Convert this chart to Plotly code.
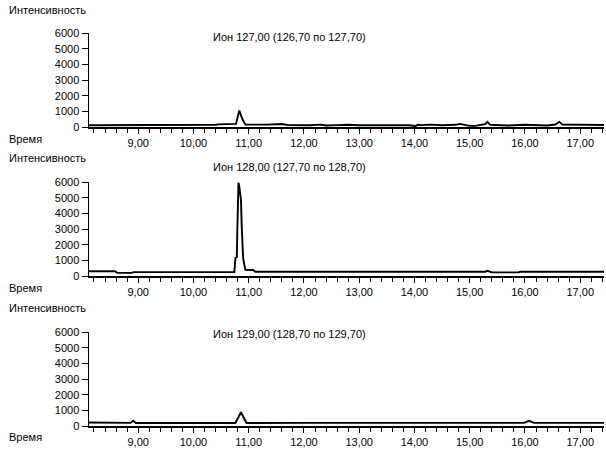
import plotly.graph_objects as go

# ---- data ----
x_tick_vals = [9, 10, 11, 12, 13, 14, 15, 16, 17]
x_tick_labels = ["9,00", "10,00", "11,00", "12,00", "13,00", "14,00", "15,00", "16,00", "17,00"]
y_tick_vals = [0, 1000, 2000, 3000, 4000, 5000, 6000]
y_tick_labels = ["0", "1000", "2000", "3000", "4000", "5000", "6000"]

titles = ["Ион 127,00 (126,70 по 127,70)",
          "Ион 128,00 (127,70 по 128,70)",
          "Ион 129,00 (128,70 по 129,70)"]

t1 = [8.11, 8.90, 8.92, 10.40, 10.45, 10.74, 10.77, 10.83, 10.88, 10.94, 11.00, 11.35,
      11.45, 11.60, 11.72, 11.80, 12.10, 12.30, 12.40, 12.60, 12.80, 13.00, 13.30, 13.50,
      13.70, 13.90, 14.02, 14.06, 14.12, 14.30, 14.50, 14.75, 14.82, 14.90, 15.00, 15.10,
      15.22, 15.28, 15.32, 15.37, 15.45, 15.70, 16.00, 16.30, 16.40, 16.55, 16.62, 16.68,
      16.80, 17.00, 17.43]
i1 = [110, 110, 140, 140, 170, 170, 200, 1050, 550, 160, 150, 150,
      150, 190, 120, 110, 110, 150, 100, 120, 140, 110, 100, 130,
      130, 110, 60, 140, 120, 150, 110, 140, 200, 150, 70, 70,
      120, 180, 330, 140, 130, 100, 140, 140, 100, 160, 330, 150,
      130, 140, 130]

t2 = [8.11, 8.58, 8.62, 8.88, 8.92, 10.74, 10.76, 10.785, 10.795, 10.805, 10.815, 10.83,
      10.845, 10.86, 10.875, 10.90, 10.94, 11.08, 11.12, 15.28, 15.32, 15.36, 15.40,
      15.88, 15.92, 17.43]
i2 = [300, 300, 200, 200, 250, 250, 1150, 1200, 3050, 5050, 5950, 5700,
      5400, 4850, 3050, 1100, 400, 380, 270, 270, 330, 270, 230,
      230, 270, 270]

t3 = [8.11, 8.80, 8.86, 8.91, 8.96, 9.00, 10.76, 10.86, 10.96, 12.00, 15.98, 16.03,
      16.07, 16.12, 16.16, 17.43]
i3 = [220, 220, 200, 340, 190, 190, 190, 880, 190, 200, 200, 260,
      330, 260, 200, 200]

series = [(t1, i1), (t2, i2), (t3, i3)]

# ---- layout geometry ----
W, H = 606, 451
x_left, x_right = 89, 604
panels_px = [(127, 33), (276, 182), (426, 332)]  # (y of 0, y of 6000)
title_py = [37, 166.7, 334]
ylab_py = [10, 158, 308]
xlab_py = [139, 288, 437]

FONT = "Liberation Sans, Arial, sans-serif"

fig = go.Figure()
annotations = []
for k, (t, v) in enumerate(series):
    n = "" if k == 0 else str(k + 1)
    fig.add_trace(go.Scatter(x=t, y=v, mode="lines",
                             line=dict(color="black", width=1.9),
                             xaxis="x" + n, yaxis="y" + n,
                             showlegend=False, hoverinfo="skip"))
    y0, y6 = panels_px[k]
    fig.layout["xaxis" + n] = dict(
        domain=[x_left / W, x_right / W], range=[8.11, 17.43], anchor="y" + n,
        automargin=False,
        showline=True, linecolor="black", linewidth=1.5,
        ticks="outside", ticklen=5, tickwidth=1, tickcolor="black",
        tickvals=x_tick_vals, ticktext=x_tick_labels,
        minor=dict(ticks="outside", ticklen=4, tickwidth=1, tickcolor="black",
                   dtick=0.2, tick0=9, showgrid=False),
        showgrid=False, zeroline=False,
        tickfont=dict(family=FONT, size=11, color="black"))
    fig.layout["yaxis" + n] = dict(
        domain=[1 - y0 / H, 1 - y6 / H], range=[0, 6000], anchor="x" + n,
        automargin=False,
        showline=True, linecolor="black", linewidth=1.5,
        ticks="outside", ticklen=6, tickwidth=1, tickcolor="black",
        tickvals=y_tick_vals, ticktext=y_tick_labels,
        showgrid=False, zeroline=False,
        tickfont=dict(family=FONT, size=11, color="black"))
    annotations.append(dict(text=titles[k], x=289.5 / W, y=1 - title_py[k] / H,
                            xref="paper", yref="paper", showarrow=False,
                            xanchor="center", yanchor="middle",
                            font=dict(family=FONT, size=11, color="black")))
    annotations.append(dict(text="Интенсивность", x=7 / W, y=1 - ylab_py[k] / H,
                            xref="paper", yref="paper", showarrow=False,
                            xanchor="left", yanchor="middle",
                            font=dict(family=FONT, size=11, color="black")))
    annotations.append(dict(text="Время", x=7 / W, y=1 - xlab_py[k] / H,
                            xref="paper", yref="paper", showarrow=False,
                            xanchor="left", yanchor="middle",
                            font=dict(family=FONT, size=11, color="black")))

fig.update_layout(template="none", width=W, height=H,
                  margin=dict(l=0, r=0, t=0, b=0, pad=0, autoexpand=False),
                  paper_bgcolor="white", plot_bgcolor="white",
                  annotations=annotations)

fig.write_html("out.html", config={"displayModeBar": False, "staticPlot": True},
               post_script="document.body.style.margin='0';document.body.style.padding='0';")
